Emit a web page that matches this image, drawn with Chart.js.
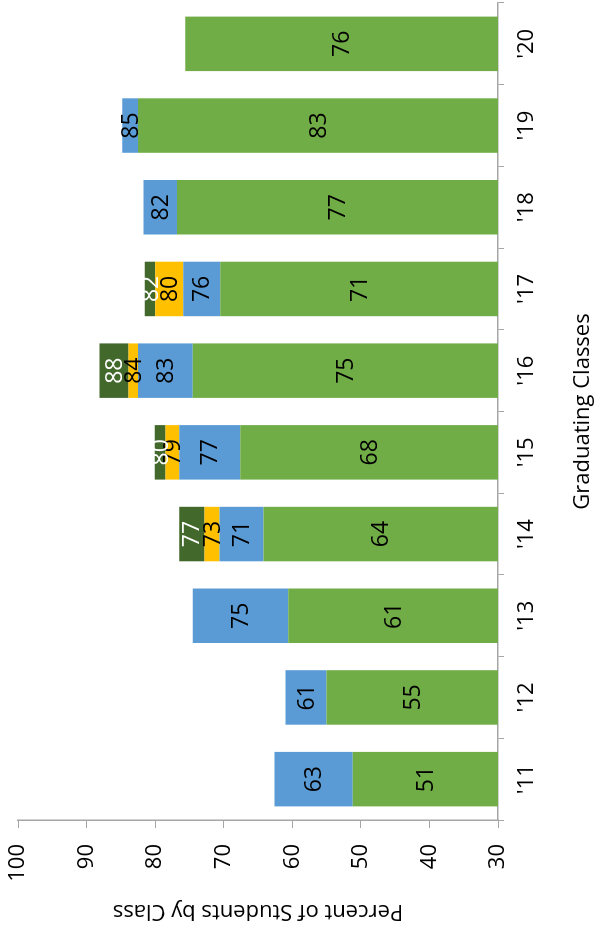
<!DOCTYPE html>
<html>
<head>
<meta charset="utf-8">
<script src="https://cdn.jsdelivr.net/npm/chart.js@4.4.1/dist/chart.umd.min.js"></script>
<style>
  html, body { margin: 0; padding: 0; background: #fff; overflow: hidden; }
  /* the chart is drawn upright, then turned a quarter turn to the left */
  #wrap {
    position: absolute; left: 0; top: 0; width: 930px; height: 596px;
    transform-origin: 0 0; transform: translateY(930px) rotate(-90deg);
  }
</style>
</head>
<body>
<div id="wrap"><canvas id="chart" width="930" height="596"></canvas></div>
<script>
// cumulative percent reached by each segment, per graduating class
const classes = ["'11", "'12", "'13", "'14", "'15", "'16", "'17", "'18", "'19", "'20"]
const green = [51.2, 55.0, 60.6, 64.2, 67.6, 74.5, 70.5, 76.8, 82.5, 75.6]
const blue = [62.6, 61.0, 74.5, 70.6, 76.5, 82.5, 75.9, 81.7, 84.8, null]
const yellow = [null, null, null, 72.8, 78.5, 83.9, 80.0, null, null, null]
const darkGreen = [null, null, null, 76.5, 80.05, 88.1, 81.5, null, null, null]
const axisMin = 30
const axisMax = 100

const FONT = 'Open Sans'

// each segment floats from the previous level up to its own level
function floating(tops, below) {
  return tops.map((v, i) => (v == null ? null : [below[i], v]))
}
const base = classes.map(() => axisMin)

const segments = [
  { data: floating(green, base), color: '#70AD47', text: '#000' },
  { data: floating(blue, green), color: '#5B9BD5', text: '#000' },
  { data: floating(yellow, blue), color: '#FFC000', text: '#000' },
  { data: floating(darkGreen, yellow), color: '#43682B', text: '#fff' },
]

const barLabels = {
  id: 'barLabels',
  afterDatasetsDraw(chart) {
    const ctx = chart.ctx
    ctx.save()
    ctx.font = `23px "${FONT}"`
    ctx.textAlign = 'center'
    ctx.textBaseline = 'middle'
    chart.data.datasets.forEach((ds, di) => {
      const meta = chart.getDatasetMeta(di)
      meta.data.forEach((bar, i) => {
        const raw = ds.data[i]
        if (!raw) return
        ctx.fillStyle = ds.labelColor
        ctx.fillText(String(Math.round(raw[1])), bar.x, (bar.y + bar.base) / 2 + 1)
      })
    })
    ctx.restore()
  },
}

const axisGrey = '#A6A6A6'

new Chart(document.getElementById('chart'), {
  type: 'bar',
  data: {
    labels: classes,
    datasets: segments.map((s) => ({
      data: s.data,
      backgroundColor: s.color,
      labelColor: s.text,
      borderWidth: 0,
      grouped: false,
      barPercentage: 0.667,
      categoryPercentage: 1,
    })),
  },
  options: {
    responsive: false,
    animation: false,
    devicePixelRatio: 1,
    layout: { padding: { top: 18, right: 3, bottom: 0, left: 0 } },
    plugins: { legend: { display: false }, tooltip: { enabled: false } },
    scales: {
      x: {
        offset: true,
        border: { color: axisGrey, width: 1.5 },
        grid: { offset: true, drawOnChartArea: false, color: axisGrey, tickLength: 6 },
        ticks: { color: '#000', font: { family: FONT, size: 22 }, padding: 10 },
        title: {
          display: true, text: 'Graduating Classes', color: '#000',
          font: { family: FONT, size: 22 }, padding: { top: 0, bottom: 0 },
        },
        afterFit: (s) => { s.height = 98 },
      },
      y: {
        min: axisMin,
        max: axisMax,
        border: { color: axisGrey, width: 1.5 },
        grid: { drawOnChartArea: false, color: axisGrey, tickLength: 8 },
        ticks: { stepSize: 10, color: '#000', font: { family: FONT, size: 22 }, padding: 16 },
        title: {
          display: true, text: 'Percent of Students by Class', color: '#000',
          font: { family: FONT, size: 22 }, padding: { top: 6, bottom: 0 },
        },
        afterFit: (s) => { s.width = 110; s.paddingTop = 0; s.paddingBottom = 0 },
      },
    },
  },
  plugins: [barLabels],
})
</script>
</body>
</html>
